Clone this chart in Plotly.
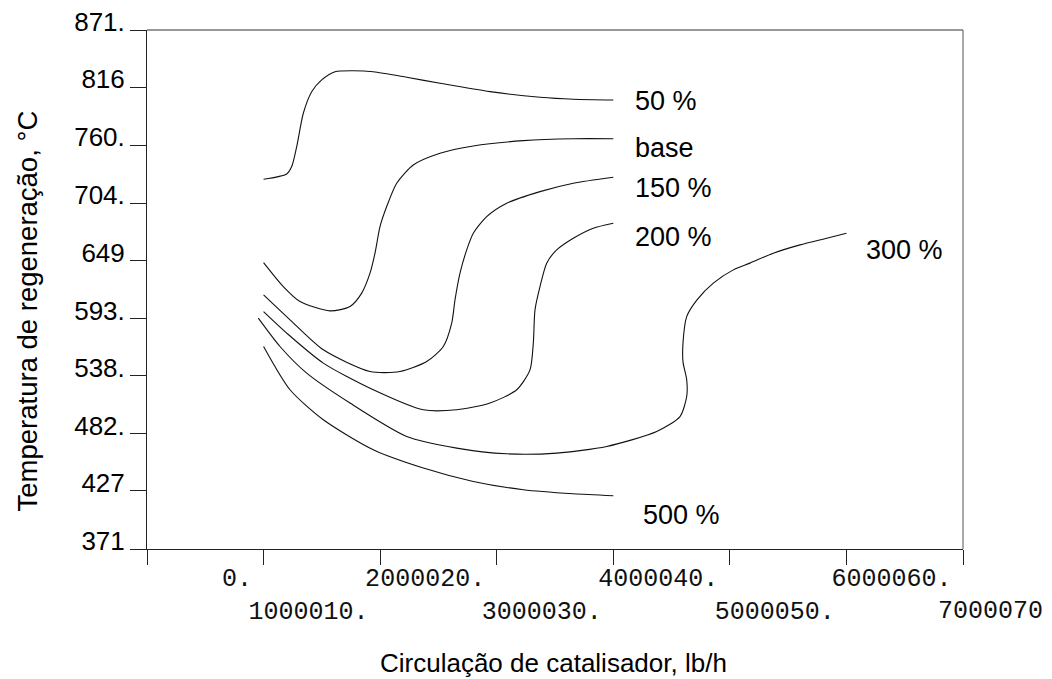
import plotly.graph_objects as go

# ---------------- data ----------------
x_ticks = [0, 1000010, 2000020, 3000030, 4000040, 5000050, 6000060, 7000070]
x_tick_text = ["0.", "1000010.", "2000020.", "3000030.", "4000040.", "5000050.", "6000060.", "7000070"]
y_ticks = [371, 427, 482, 538, 593, 649, 704, 760, 816, 871]
y_tick_text = ["371", "427", "482.", "538.", "593.", "649", "704.", "760.", "816", "871."]

x_50 = [1000010, 1198400, 1241300, 1284200, 1340800, 1412900, 1498700, 1612800, 1769700,
        1941300, 2227800, 2513500, 2942400, 3371300, 3657000, 4000040]
y_50 = [727.2, 732.3, 739.4, 758.6, 790.8, 811.6, 822.9, 830.8, 831.8,
        830.8, 825.5, 819.7, 811.6, 806.2, 804.3, 803.6]

x_base = [1000010, 1169250, 1312500, 1569900, 1741400, 1841800, 1913000, 1955900, 1998800,
          2056300, 2142000, 2284500, 2513500, 2799200, 3228100, 3657000, 4000040]
y_base = [646.9, 623.8, 609.4, 600.4, 604.6, 617.5, 636.7, 656.0, 681.6,
          700.9, 723.4, 741.0, 752.3, 759.3, 764.4, 766.3, 766.3]

x_150 = [1000010, 1226700, 1512400, 1913000, 2170400, 2399400, 2541800, 2613900, 2642200,
         2685100, 2742600, 2799200, 2914100, 3085700, 3371300, 3657000, 4000040]
y_150 = [615.8, 591.8, 562.9, 542.0, 542.0, 551.6, 566.1, 588.6, 611.0,
         636.7, 659.2, 675.2, 691.2, 704.1, 715.3, 723.4, 729.2]

x_200 = [1000010, 1198400, 1512400, 1941300, 2370200, 2656800, 2942400, 3171500, 3285600,
         3314000, 3328500, 3371300, 3428800, 3514600, 3657000, 3828600, 4000040]
y_200 = [599.7, 579.0, 550.1, 524.4, 505.1, 505.1, 511.6, 524.4, 543.6,
         569.3, 601.4, 623.8, 646.4, 659.2, 670.4, 680.1, 684.9]

x_300 = [954800, 1140900, 1370000, 1741400, 2227800, 2656800, 3085700, 3514600, 3943500,
         4372400, 4572300, 4629800, 4629800, 4598100, 4598100, 4629800, 4718200, 4858000,
         5029600, 5172800, 5372700, 5601800, 5830800, 6000060]
y_300 = [593.4, 566.1, 540.4, 511.6, 479.4, 468.2, 462.7, 463.4, 469.8,
         484.2, 498.6, 517.9, 534.0, 551.3, 569.6, 594.9, 611.0, 627.1,
         639.9, 646.4, 656.0, 664.0, 670.4, 675.2]

x_500 = [1000010, 1226700, 1512400, 1941300, 2370200, 2799200, 3228100, 3657000, 4000040]
y_500 = [566.1, 524.4, 495.5, 466.6, 449.0, 436.1, 428.1, 424.2, 422.3]

series_names = ["50 %", "base", "150 %", "200 %", "300 %", "500 %"]
series_x = [x_50, x_base, x_150, x_200, x_300, x_500]
series_y = [y_50, y_base, y_150, y_200, y_300, y_500]

x_title = "Circulação de catalisador, lb/h"
y_title = "Temperatura de regeneração, °C"

# ---------------- styles ----------------
label_offsets = {  # pixel offsets of the curve labels from the curve ends
    "50 %": (20, -1), "base": (20, -9), "150 %": (20, -11),
    "200 %": (20, -14), "300 %": (18, -17), "500 %": (28, -19),
}
sans = "Liberation Sans, Arial, sans-serif"
mono = "Liberation Mono, Courier New, monospace"
NB = "\u00a0"

fig = go.Figure()
for name, xs, ys in zip(series_names, series_x, series_y):
    fig.add_trace(go.Scatter(
        x=xs, y=ys, mode="lines", name=name,
        line=dict(color="#111111", width=1.1, shape="spline", smoothing=0.7),
        showlegend=False, hoverinfo="skip",
    ))

# staggered, fixed-width monospace tick labels (the last one, at the right
# edge of the figure, is drawn as an annotation so that it is not cut off)
tt = []
for i, t in enumerate(x_tick_text[:-1]):
    padded = t.rjust(8).replace(" ", NB)
    tt.append(padded if i % 2 == 0 else "<br>" + padded)
tt.append("")

annotations = []
for name, xs, ys in zip(series_names, series_x, series_y):
    dx, dy = label_offsets[name]
    annotations.append(dict(
        x=xs[-1], y=ys[-1], xref="x", yref="y", text=name, showarrow=False,
        xanchor="left", yanchor="middle", xshift=dx, yshift=dy,
        font=dict(family=sans, size=27, color="black"),
    ))
annotations.append(dict(
    x=1, y=0, xref="paper", yref="paper", text=x_tick_text[-1], showarrow=False,
    xanchor="right", yanchor="middle", xshift=82, yshift=-62,
    font=dict(family=mono, size=25, color="#111111"),
))
annotations.append(dict(
    x=0, y=0.5, xref="paper", yref="paper", text=y_title, showarrow=False,
    textangle=-90, xanchor="center", yanchor="middle", xshift=-120, yshift=-22,
    font=dict(family=sans, size=27.5, color="black"),
))
annotations.append(dict(
    x=0.5, y=0, xref="paper", yref="paper", text=x_title, showarrow=False,
    xanchor="center", yanchor="middle", xshift=-2, yshift=-114,
    font=dict(family=sans, size=26, color="black"),
))

shapes = [
    # frame (top / right thin)
    dict(type="line", xref="paper", yref="paper", x0=0, x1=1, y0=1, y1=1,
         line=dict(color="#333333", width=1)),
    dict(type="line", xref="paper", yref="paper", x0=1, x1=1, y0=0, y1=1,
         line=dict(color="#555555", width=1)),
    # outer lines of the double axes
    dict(type="line", xref="x", yref="paper", xsizemode="pixel", xanchor=0,
         x0=-3, x1=-3, y0=0, y1=1, line=dict(color="#222222", width=1)),
    dict(type="line", xref="paper", yref="y", ysizemode="pixel", yanchor=371,
         y0=-3, y1=-3, x0=0, x1=1, line=dict(color="#222222", width=1)),
]

fig.update_layout(
    width=1052, height=679,
    margin=dict(l=147, r=89, t=30, b=130, pad=0, autoexpand=False),
    paper_bgcolor="white", plot_bgcolor="white",
    annotations=annotations, shapes=shapes,
    xaxis=dict(
        range=[0, 7000070], tickmode="array", tickvals=x_ticks, ticktext=tt,
        automargin=False,
        showgrid=False, zeroline=False, showline=True, linecolor="#222222", linewidth=1,
        ticks="outside", ticklen=15, tickwidth=1, tickcolor="#222222",
        tickangle=0, ticklabelshift=45, ticklabelstandoff=-9,
        ticklabeloverflow="allow",
        tickfont=dict(family=mono, size=25, color="#111111"),
    ),
    yaxis=dict(
        range=[371, 871], tickmode="array", tickvals=y_ticks, ticktext=y_tick_text,
        automargin=False,
        showgrid=False, zeroline=False, showline=True, linecolor="#222222", linewidth=1,
        ticks="outside", ticklen=16, tickwidth=1, tickcolor="#222222",
        ticklabelshift=-8,
        tickfont=dict(family=sans, size=26, color="black"),
    ),
)

fig.write_html("out.html")
